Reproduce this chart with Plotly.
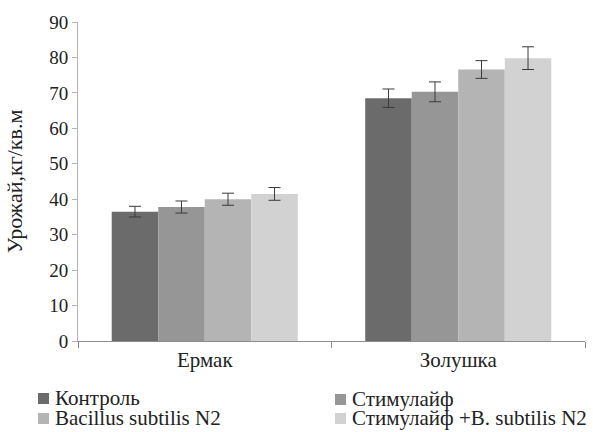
import plotly.graph_objects as go

categories = ["Ермак", "Золушка"]
series_names = ["Контроль", "Стимулайф", "Bacillus subtilis N2", "Стимулайф +B. subtilis N2"]
values = [
    [36.5, 68.5],
    [37.8, 70.3],
    [40.0, 76.6],
    [41.5, 79.8],
]
errors = [
    [1.5, 2.6],
    [1.7, 2.8],
    [1.7, 2.5],
    [1.8, 3.2],
]
colors = ["#6b6b6b", "#969696", "#b4b4b4", "#d2d2d2"]
y_ticks = [0, 10, 20, 30, 40, 50, 60, 70, 80, 90]

SERIF = "Liberation Serif"
W, H = 593, 432
ML, MR, MT, MB = 78, 8, 22, 91
PW, PH = W - ML - MR, H - MT - MB

fig = go.Figure()
for name, v, e, c in zip(series_names, values, errors, colors):
    fig.add_trace(go.Bar(
        x=categories, y=v, name=name, showlegend=False,
        marker=dict(color=c, line=dict(width=0)),
        error_y=dict(type="data", array=e, color="#3a3a3a", thickness=1, width=6),
    ))

# 2x2 legend drawn as swatch + text in paper coordinates
def px_x(px):
    return (px - ML) / PW

def px_y(py):
    return (H - MB - py) / PH

legend_slots = [(53, 398), (350, 399), (53, 418), (350, 418)]
for name, c, (tx, ty) in zip(series_names, colors, legend_slots):
    fig.add_shape(type="rect", xref="paper", yref="paper",
                  x0=px_x(tx - 15), x1=px_x(tx - 4), y0=px_y(ty - 5), y1=px_y(ty + 6),
                  fillcolor=c, line=dict(width=0))
    fig.add_annotation(xref="paper", yref="paper", x=px_x(tx), y=px_y(ty),
                       xanchor="left", yanchor="middle", showarrow=False,
                       text=name, font=dict(size=21, family=SERIF, color="#222222"))

fig.update_layout(
    width=W, height=H,
    margin=dict(l=ML, r=MR, t=MT, b=MB, autoexpand=False),
    paper_bgcolor="white", plot_bgcolor="white",
    barmode="group", bargap=0.266, bargroupgap=0,
    font=dict(family=SERIF, size=19, color="#222222"),
)
fig.update_xaxes(
    showline=True, linecolor="#8c8c8c", linewidth=1,
    ticks="outside", tickson="boundaries", ticklen=6, tickcolor="#8c8c8c",
    tickfont=dict(size=21, family=SERIF), showgrid=False,
)
fig.update_yaxes(
    range=[0, 90], tickvals=y_ticks, showline=True, linecolor="#b4b4b4", linewidth=1,
    ticks="outside", ticklen=5, tickcolor="#b4b4b4", showgrid=False, zeroline=False,
    tickfont=dict(size=19, family=SERIF),
    title=dict(text="Урожай,кг/кв.м", font=dict(size=22, family=SERIF), standoff=20),
)

fig.write_html("out.html", config={"displayModeBar": False},
               post_script="document.body.style.margin='0';")
